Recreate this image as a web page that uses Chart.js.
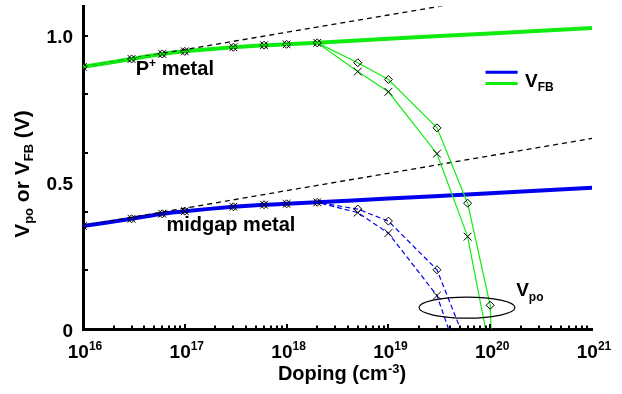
<!DOCTYPE html>
<html>
<head>
<meta charset="utf-8">
<script src="https://cdn.jsdelivr.net/npm/chart.js@4.4.1/dist/chart.umd.min.js"></script>
<style>
  html, body { margin: 0; padding: 0; background: #fff; }
</style>
</head>
<body>
<canvas id="vChart" width="622" height="394"></canvas>
<script>
// flat-band voltage (thick curves)
const dopingVfb = [1e16, 3e16, 6e16, 1e17, 3e17, 6e17, 1e18, 2e18, 1e19, 1e20, 1e21];
const vfbP   = [0.894, 0.921, 0.938, 0.947, 0.961, 0.968, 0.971, 0.976, 0.990, 1.008, 1.027];
const vfbMid = [0.351, 0.376, 0.393, 0.402, 0.417, 0.424, 0.427, 0.432, 0.445, 0.463, 0.482];

// straight dashed reference lines
const dopingIdeal = [1e16, 1e17, 1e18, 1e19, 1e20, 1e21];
const idealP   = [0.894, 0.953, 1.012, 1.071, 1.130, 1.189];
const idealMid = [0.352, 0.412, 0.472, 0.531, 0.591, 0.650];

// Vpo curves with markers (diamond / cross)
const dopingVpo = [1e16, 3e16, 6e16, 1e17, 3e17, 6e17, 1e18, 2e18, 5e18, 1e19, 3e19, 6e19, 1e20];
const vpoPDiamond   = [0.894, 0.921, 0.938, 0.947, 0.961, 0.968, 0.971, 0.976, 0.908, 0.851, 0.686, 0.429, 0.081];
const vpoPCross     = [0.894, 0.921, 0.938, 0.947, 0.961, 0.968, 0.971, 0.976, 0.878, 0.809, 0.598, 0.315, null];
const vpoMidDiamond = [0.351, 0.376, 0.393, 0.402, 0.417, 0.424, 0.427, 0.432, 0.409, 0.368, 0.202, null, null];
const vpoMidCross   = [0.351, 0.376, 0.393, 0.402, 0.417, 0.424, 0.427, 0.432, 0.397, 0.327, 0.114, null, null];
// doping where each Vpo curve reaches 0 (pDiamond, pCross, midDiamond, midCross)
const vpoEndDoping = [1.02e20, 9.0e19, 5.1e19, 3.9e19];

// axes
const xTickExp = [16, 17, 18, 19, 20, 21];
const yTickMarks = [0.2, 0.4, 0.6, 0.8, 1.0];
const yTickValues = [0, 0.5, 1.0];
const yTickLabels = ['0', '0.5', '1.0'];

const GREEN = '#10ec10';
const BLUE = '#0000ee';
const FONT = '"Liberation Sans", Arial, sans-serif';

function pts(xs, ys) {
  return xs.map((x, i) => ({ x: x, y: ys[i] })).filter(p => p.y !== null);
}

function markerSet(values, endDoping, color, style, dashed) {
  const size = style === 'crossRot' ? 5.5 : 4;
  return {
    data: pts(dopingVpo, values).concat([{ x: endDoping, y: 0 }]),
    borderColor: color,
    borderWidth: 1.2,
    borderDash: dashed ? [5, 3] : [],
    pointStyle: style,
    pointRadius: ctx => (ctx.raw && ctx.raw.y > 0 ? size : 0),
    pointBorderColor: '#000',
    pointBackgroundColor: 'rgba(0,0,0,0)',
    pointBorderWidth: 1
  };
}

// draws text pieces of different size/offset in one row
function richText(ctx, parts, x, y, align) {
  let total = 0;
  parts.forEach(p => {
    ctx.font = 'bold ' + p[1] + 'px ' + FONT;
    p.w = ctx.measureText(p[0]).width;
    total += p.w;
  });
  let cx = align === 'center' ? x - total / 2 : align === 'right' ? x - total : x;
  ctx.textAlign = 'left';
  ctx.textBaseline = 'alphabetic';
  parts.forEach(p => {
    ctx.font = 'bold ' + p[1] + 'px ' + FONT;
    ctx.fillText(p[0], cx, y + (p[2] || 0));
    cx += p.w;
  });
}

const decorations = {
  id: 'decorations',
  afterDraw(chart) {
    const { ctx, chartArea: a, scales: { x, y } } = chart;
    ctx.save();
    ctx.fillStyle = '#000';
    ctx.strokeStyle = '#000';

    // inward tick marks
    ctx.lineWidth = 2;
    ctx.beginPath();
    yTickMarks.forEach(v => {
      const py = Math.round(y.getPixelForValue(v));
      ctx.moveTo(a.left, py);
      ctx.lineTo(a.left + 5, py);
    });
    for (let d = 16; d < 21; d++) {
      for (let m = 1; m <= 9; m++) {
        const px = Math.round(x.getPixelForValue(m * Math.pow(10, d)));
        ctx.moveTo(px, a.bottom);
        ctx.lineTo(px, a.bottom - (m === 1 ? 5 : 3.5));
      }
    }
    ctx.stroke();

    // tick labels
    yTickValues.forEach((v, i) => {
      richText(ctx, [[yTickLabels[i], 19]], a.left - 10, y.getPixelForValue(v) + 7.5, 'right');
    });
    xTickExp.forEach(e => {
      richText(ctx, [['10', 19], [String(e), 12, -8]], x.getPixelForValue(Math.pow(10, e)) + 2, a.bottom + 29, 'center');
    });

    // axis titles
    richText(ctx, [['Doping (cm', 20], ['-3', 13, -7], [')', 20]], 342, a.bottom + 51, 'center');
    ctx.save();
    ctx.translate(29, 174);
    ctx.rotate(-Math.PI / 2);
    richText(ctx, [['V', 21], ['po', 13, 4], [' or V', 21], ['FB', 13, 4], [' (V)', 21]], 0, 0, 'center');
    ctx.restore();

    // curve labels
    richText(ctx, [['P', 20], ['+', 12, -8], [' metal', 20]], x.getPixelForValue(3.3e16), y.getPixelForValue(0.865), 'left');
    richText(ctx, [['midgap metal', 20]], x.getPixelForValue(6.6e16), y.getPixelForValue(0.335), 'left');
    richText(ctx, [['V', 19], ['po', 12, 5]], x.getPixelForValue(1.8e20), y.getPixelForValue(0.112), 'left');

    // ellipse round the Vpo end points
    const ex1 = x.getPixelForValue(2.0e19), ex2 = x.getPixelForValue(1.75e20);
    const ey1 = y.getPixelForValue(0.109), ey2 = y.getPixelForValue(0.037);
    ctx.lineWidth = 1.2;
    ctx.beginPath();
    ctx.ellipse((ex1 + ex2) / 2, (ey1 + ey2) / 2, (ex2 - ex1) / 2, (ey2 - ey1) / 2, 0, 0, Math.PI * 2);
    ctx.stroke();

    // legend
    const lx1 = x.getPixelForValue(9.0e19), lx2 = x.getPixelForValue(1.86e20);
    ctx.lineWidth = 3;
    ctx.strokeStyle = BLUE;
    ctx.beginPath();
    ctx.moveTo(lx1, y.getPixelForValue(0.876));
    ctx.lineTo(lx2, y.getPixelForValue(0.876));
    ctx.stroke();
    ctx.strokeStyle = GREEN;
    ctx.beginPath();
    ctx.moveTo(lx1, y.getPixelForValue(0.837));
    ctx.lineTo(lx2, y.getPixelForValue(0.837));
    ctx.stroke();
    richText(ctx, [['V', 19], ['FB', 12, 4]], x.getPixelForValue(2.2e20), y.getPixelForValue(0.826), 'left');

    ctx.restore();
  }
};

new Chart(document.getElementById('vChart'), {
  type: 'line',
  data: {
    datasets: [
      markerSet(vpoPDiamond, vpoEndDoping[0], GREEN, 'rectRot', false),
      markerSet(vpoPCross, vpoEndDoping[1], GREEN, 'crossRot', false),
      markerSet(vpoMidDiamond, vpoEndDoping[2], BLUE, 'rectRot', true),
      markerSet(vpoMidCross, vpoEndDoping[3], BLUE, 'crossRot', true),
      {
        data: pts(dopingIdeal, idealP),
        borderColor: '#000', borderWidth: 1.3, borderDash: [5, 4], pointRadius: 0
      },
      {
        data: pts(dopingIdeal, idealMid),
        borderColor: '#000', borderWidth: 1.3, borderDash: [5, 4], pointRadius: 0
      },
      {
        data: pts(dopingVfb, vfbP),
        borderColor: GREEN, borderWidth: 4, pointRadius: 0, tension: 0.2
      },
      {
        data: pts(dopingVfb, vfbMid),
        borderColor: BLUE, borderWidth: 4, pointRadius: 0, tension: 0.2
      }
    ]
  },
  options: {
    responsive: false,
    animation: false,
    devicePixelRatio: 1,
    layout: { padding: { left: 83, right: 30, top: 4, bottom: 65 } },
    plugins: { legend: { display: false }, tooltip: { enabled: false } },
    scales: {
      x: {
        type: 'logarithmic', min: 1e16, max: 1e21,
        ticks: { display: false },
        grid: { display: false, drawTicks: false },
        border: { display: true, color: '#000', width: 3 }
      },
      y: {
        type: 'linear', min: 0, max: 1.1,
        ticks: { display: false },
        grid: { display: false, drawTicks: false },
        border: { display: true, color: '#000', width: 3 }
      }
    }
  },
  plugins: [decorations]
});
</script>
</body>
</html>
